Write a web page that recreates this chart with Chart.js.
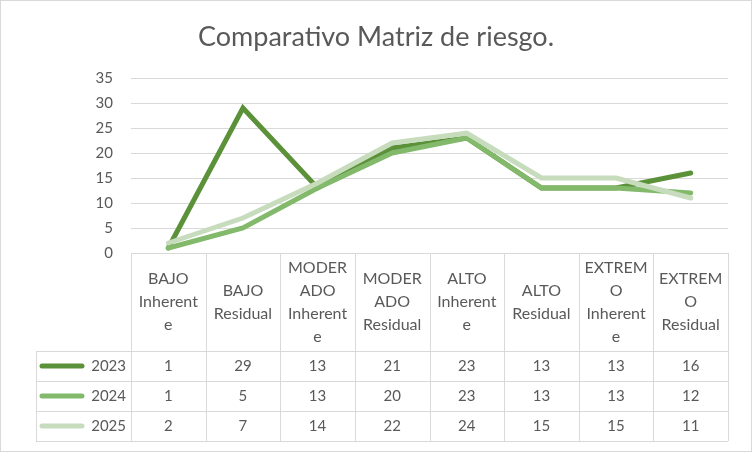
<!DOCTYPE html>
<html><head><meta charset="utf-8">
<script src="https://cdn.jsdelivr.net/npm/chart.js@4.4.1/dist/chart.umd.min.js"></script>
<style>html,body{margin:0;padding:0;background:#fff;}#wrap{width:752px;height:452px;position:relative;}</style>
</head><body><div id="wrap"><canvas id="c" width="752" height="452"></canvas></div>
<script>
const chartTitle = "Comparativo Matriz de riesgo.";
const categories = [
  ["BAJO","Inherent","e"],
  ["BAJO","Residual"],
  ["MODER","ADO","Inherent","e"],
  ["MODER","ADO","Residual"],
  ["ALTO","Inherent","e"],
  ["ALTO","Residual"],
  ["EXTREM","O","Inherent","e"],
  ["EXTREM","O","Residual"]
];
const seriesNames = ["2023","2024","2025"];
const values2023 = [1,29,13,21,23,13,13,16];
const values2024 = [1,5,13,20,23,13,13,12];
const values2025 = [2,7,14,22,24,15,15,11];
const yTickMin = 0, yTickMax = 35, yTickStep = 5;

const colors = ["#5a9139","#82b96a","#c6dcbd"];
const seriesValues = [values2023, values2024, values2025];
const FONT = "Lato, 'Liberation Sans', sans-serif";
const TXT = "#595959";
const GRID = "#d9d9d9";

const tablePlugin = {
  id: 'dataTable',
  afterDraw(chart) {
    const ctx = chart.ctx;
    const xs = chart.scales.x;
    const ca = chart.chartArea;
    const half = (xs.getPixelForValue(1) - xs.getPixelForValue(0)) / 2;
    const top = ca.bottom;
    const headerBottom = 351;
    const rowH = 30;
    const legendLeft = 36;
    const nRows = seriesValues.length;
    const tableBottom = headerBottom + rowH * nRows;
    ctx.save();
    ctx.strokeStyle = GRID;
    ctx.lineWidth = 1;
    ctx.beginPath();
    for (let i = 0; i <= categories.length; i++) {
      const x = Math.round(xs.getPixelForValue(0) - half + i * 2 * half) + 0.5;
      ctx.moveTo(x, top); ctx.lineTo(x, tableBottom);
    }
    ctx.moveTo(legendLeft + 0.5, headerBottom); ctx.lineTo(legendLeft + 0.5, tableBottom);
    for (let r = 0; r <= nRows; r++) {
      const y = headerBottom + r * rowH + 0.5;
      ctx.moveTo(legendLeft, y); ctx.lineTo(ca.right, y);
    }
    ctx.stroke();

    ctx.fillStyle = TXT;
    ctx.font = "16px " + FONT;
    ctx.textAlign = "center";
    ctx.textBaseline = "middle";
    const lineGap = 23;
    const hc = 302;
    categories.forEach((lines, i) => {
      const x = xs.getPixelForValue(i);
      const y0 = hc - (lines.length - 1) * lineGap / 2;
      lines.forEach((t, k) => ctx.fillText(t, x, y0 + k * lineGap));
    });
    ctx.font = "15px " + FONT;
    seriesValues.forEach((vals, r) => {
      const yc = headerBottom + r * rowH + rowH / 2;
      vals.forEach((v, i) => {
        ctx.fillText(String(v), xs.getPixelForValue(i), yc);
      });
      ctx.strokeStyle = colors[r];
      ctx.lineWidth = 5;
      ctx.lineCap = "round";
      ctx.beginPath();
      ctx.moveTo(42, yc); ctx.lineTo(82, yc);
      ctx.stroke();
      ctx.textAlign = "right";
      ctx.fillText(seriesNames[r], 126, yc);
      ctx.textAlign = "center";
    });
    ctx.strokeStyle = GRID;
    ctx.lineWidth = 1;
    ctx.strokeRect(0.5, 0.5, chart.width - 1, chart.height - 1);
    ctx.restore();
  }
};

new Chart(document.getElementById('c'), {
  type: 'line',
  data: {
    labels: categories,
    datasets: seriesValues.map((vals, i) => ({
      label: seriesNames[i],
      data: vals,
      borderColor: colors[i],
      backgroundColor: colors[i],
      borderWidth: 5,
      borderCapStyle: 'round',
      borderJoinStyle: 'miter',
      pointRadius: 0,
      tension: 0,
      order: seriesValues.length - i
    }))
  },
  options: {
    responsive: false,
    animation: false,
    layout: { padding: { left: 24, right: 24, top: 0, bottom: 0 } },
    plugins: {
      legend: { display: false },
      tooltip: { enabled: false },
      title: {
        display: true,
        text: chartTitle,
        color: TXT,
        font: { family: FONT, size: 27, weight: 'normal' },
        padding: { top: 21, bottom: 24.6 }
      }
    },
    scales: {
      x: {
        offset: true,
        grid: { display: false },
        border: { display: false },
        ticks: { display: false },
        afterFit: (s) => { s.height = 452 - 253; }
      },
      y: {
        min: yTickMin, max: yTickMax,
        ticks: { stepSize: yTickStep, color: TXT, font: { family: FONT, size: 15 }, padding: 18 },
        grid: { color: GRID, lineWidth: 1, drawTicks: false },
        border: { display: false },
        afterFit: (s) => { s.width = 107; }
      }
    }
  },
  plugins: [tablePlugin]
});
</script>
</body></html>
